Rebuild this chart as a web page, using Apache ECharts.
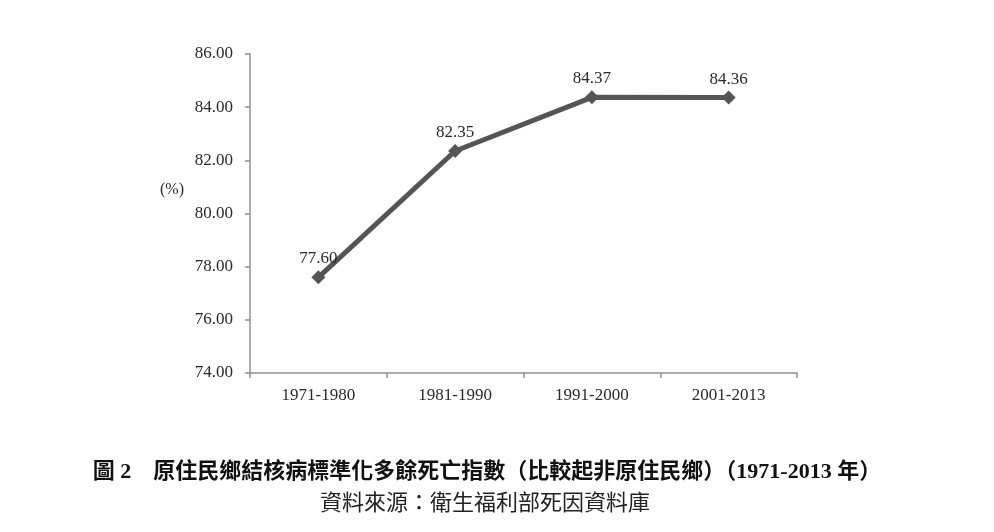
<!DOCTYPE html>
<html><head><meta charset="utf-8">
<script src="https://cdn.jsdelivr.net/npm/echarts@6/dist/echarts.min.js"></script>
<style>html,body{margin:0;padding:0;background:#fff;}#c{width:994px;height:532px;}</style>
</head><body><div id="c"></div>
<script>
const categories = ['1971-1980', '1981-1990', '1991-2000', '2001-2013'];
const values = [77.60, 82.35, 84.37, 84.36];
const yMin = 74, yMax = 86, yStep = 2;
const titleText = '圖 2　原住民鄉結核病標準化多餘死亡指數（比較起非原住民鄉）（1971-2013 年）';
const sourceText = '資料來源：衛生福利部死因資料庫';
const unitText = '(%)';

const chart = echarts.init(document.getElementById('c'));
chart.setOption({
  animation: false,
  backgroundColor: '#fff',
  grid: { left: 250, right: 197, top: 54, bottom: 159 },
  xAxis: {
    type: 'category', data: categories, boundaryGap: true,
    axisLine: { lineStyle: { color: '#909090', width: 1.5 } },
    axisTick: { show: true, length: 5, lineStyle: { color: '#909090', width: 1.5 } },
    axisLabel: { color: '#2a2a2a', fontFamily: 'Liberation Serif', fontSize: 17, margin: 14 }
  },
  yAxis: {
    type: 'value', min: yMin, max: yMax, interval: yStep,
    axisLine: { show: true, lineStyle: { color: '#909090', width: 1.5 } },
    axisTick: { show: true, length: 5, lineStyle: { color: '#909090', width: 1.5 } },
    splitLine: { show: false },
    axisLabel: { color: '#2a2a2a', fontFamily: 'Liberation Serif', fontSize: 17, margin: 17,
      formatter: v => v.toFixed(2) }
  },
  series: [{
    type: 'line', data: values,
    symbol: 'diamond', symbolSize: 14,
    lineStyle: { color: '#555', width: 5 },
    itemStyle: { color: '#555' },
    label: { show: true, position: 'top', distance: 3, color: '#2a2a2a',
      fontFamily: 'Liberation Serif', fontSize: 17, formatter: p => p.value.toFixed(2) }
  }],
  graphic: [
    { type: 'text', left: 160, top: 182, style: { text: unitText, fill: '#2a2a2a', font: '16px "Liberation Serif"' } },
    { type: 'text', x: 487, y: 461, style: { text: titleText, fill: '#111', textAlign: 'center', font: 'bold 22px "Liberation Serif", "Noto Sans CJK TC"' } },
    { type: 'text', x: 485, y: 491, style: { text: sourceText, fill: '#222', textAlign: 'center', font: '22px "Noto Sans CJK TC"' } }
  ]
});
</script></body></html>
